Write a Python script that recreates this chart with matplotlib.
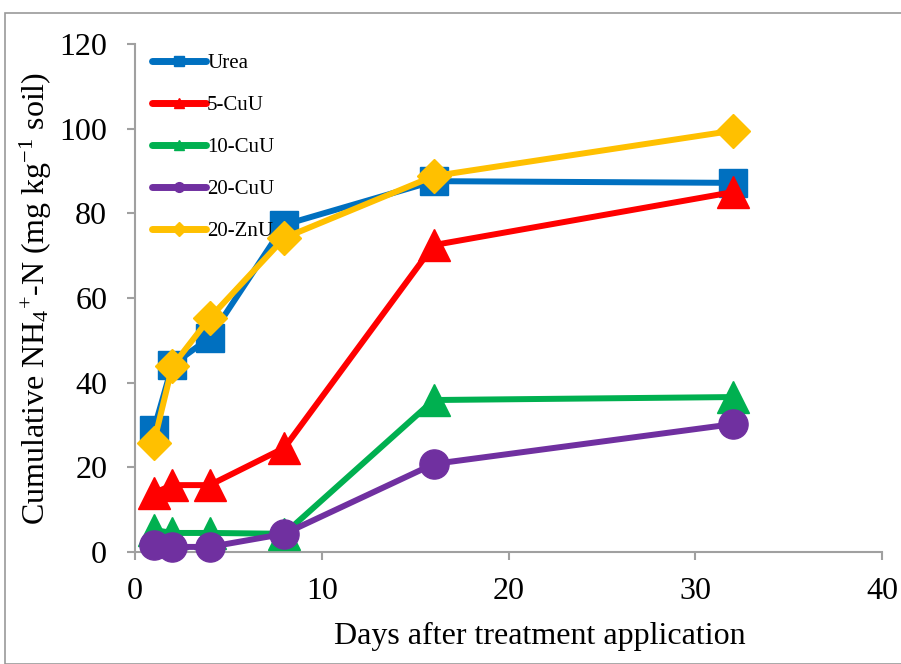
import matplotlib
matplotlib.use("Agg")
import matplotlib.pyplot as plt
from matplotlib.patches import Rectangle

days = [1, 2, 4, 8, 16, 32]
urea = [28.8, 44.2, 50.6, 77.3, 87.6, 87.2]
cu5 = [13.9, 15.8, 15.8, 24.6, 72.5, 85.0]
cu10 = [5.2, 4.5, 4.5, 4.3, 35.9, 36.6]
cu20 = [1.7, 1.2, 1.2, 4.3, 20.8, 30.2]
zn20 = [25.7, 43.9, 55.3, 74.2, 88.8, 99.5]

series = [
    ("Urea", urea, "#0070C0", "s", 20),
    ("5-CuU", cu5, "#FF0000", "^", 23),
    ("10-CuU", cu10, "#00B050", "^", 23),
    ("20-CuU", cu20, "#7030A0", "o", 21),
    ("20-ZnU", zn20, "#FFC000", "D", 17),
]

plt.rcParams['font.family'] = ['Liberation Serif', 'DejaVu Serif']
plt.rcParams['mathtext.fontset'] = 'custom'
plt.rcParams['mathtext.rm'] = 'Liberation Serif'
plt.rcParams['mathtext.it'] = 'Liberation Serif:italic'

fig = plt.figure(figsize=(9.01, 6.64), dpi=100)
W, H = 901, 664
ax = fig.add_axes([135 / W, 1 - 552 / H, (882 - 135) / W, (552 - 44) / H])

# outer chart border
fig.patches.append(Rectangle((5 / W, 0), 1, 1 - 13 / H, transform=fig.transFigure,
                             fill=False, edgecolor="#999999", linewidth=1.2))

handles = []
for name, vals, col, mk, ms in series:
    ax.plot(days, vals, color=col, lw=4.3, marker=mk, markersize=ms, clip_on=False, zorder=3)
    h, = ax.plot([], [], color=col, lw=5, marker=mk, markersize=7, solid_capstyle='round')
    handles.append((h, name))

ax.set_xlim(0, 40)
ax.set_ylim(0, 120)
ax.set_xticks([0, 10, 20, 30, 40])
ax.set_yticks(range(0, 121, 20))
for s in ['top', 'right']:
    ax.spines[s].set_visible(False)
for s in ['left', 'bottom']:
    ax.spines[s].set_color("#A0A0A0")
    ax.spines[s].set_linewidth(1.5)
ax.tick_params(direction='out', length=6, width=1.5, color="#A0A0A0", labelsize=23)
ax.tick_params(axis='y', pad=14)
ax.tick_params(axis='x', pad=12)

ax.set_xlabel("Days after treatment application", fontsize=23)
ax.xaxis.set_label_coords(0.542, -0.138)
ax.set_ylabel(r"Cumulative NH$_4$$^{+}$-N (mg kg$^{-1}$ soil)", fontsize=23, labelpad=4)

ax.legend([h for h, _ in handles], [n for _, n in handles], loc='upper left',
          bbox_to_anchor=(0.01, 1.0), frameon=False, fontsize=15,
          handlelength=2.6, handletextpad=0.05, labelspacing=1.08, borderaxespad=0.05)

fig.savefig("out.png", dpi=100)
